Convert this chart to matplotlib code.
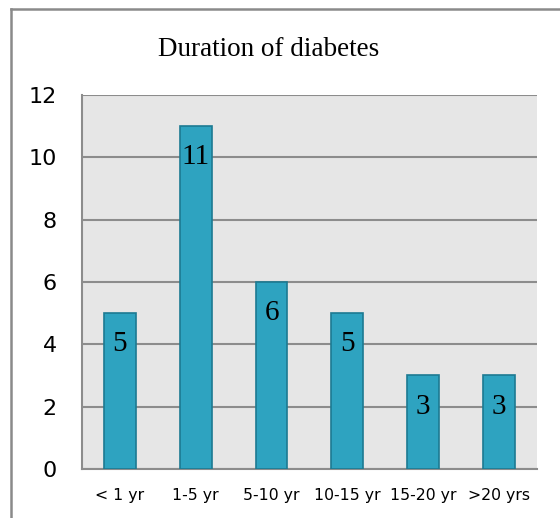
import matplotlib
matplotlib.use("Agg")
import matplotlib.pyplot as plt
from matplotlib.lines import Line2D

categories = ["< 1 yr", "1-5 yr", "5-10 yr", "10-15 yr", "15-20 yr", ">20 yrs"]
counts = [5, 11, 6, 5, 3, 3]
yticks = [0, 2, 4, 6, 8, 10, 12]

fig = plt.figure(figsize=(5.6, 5.18), dpi=100)
ax = fig.add_axes([0.1464, 0.0946, 0.8125, 0.722])
ax.set_facecolor("#e6e6e6")

x = range(len(categories))
bars = ax.bar(x, counts, width=0.42, color="#2ea3c0", edgecolor="#1d7a92", linewidth=1.2, zorder=3)

for b, v in zip(bars, counts):
    ax.annotate(str(v), (b.get_x() + b.get_width() / 2, v), xytext=(0, -22.5),
                textcoords="offset points", ha="center", va="center",
                fontsize=21, family="Liberation Serif", zorder=4)

ax.set_ylim(0, 12)
ax.set_xlim(-0.5, len(categories) - 0.5)
ax.set_yticks(yticks)
ax.set_xticks(list(x))
ax.set_xticklabels(categories)
ax.yaxis.grid(True, color="#8c8c8c", linewidth=1.5, zorder=1)
ax.set_axisbelow(True)
ax.tick_params(axis="y", length=0, pad=18, labelsize=16)
ax.tick_params(axis="x", length=0, pad=14, labelsize=11.3)
for s in ["top", "right"]:
    ax.spines[s].set_visible(False)
for s in ["left", "bottom"]:
    ax.spines[s].set_color("#8c8c8c")
    ax.spines[s].set_linewidth(1.5)

fig.text(0.48, 0.905, "Duration of diabetes", ha="center", va="center",
         fontsize=19.5, family="Liberation Serif")

# outer frame (only left and top visible in the crop)
fig.add_artist(Line2D([11 / 560, 11 / 560], [0, 1 - 9 / 518], transform=fig.transFigure,
                      color="#8a8a8a", linewidth=1.8))
fig.add_artist(Line2D([11 / 560, 1], [1 - 9 / 518, 1 - 9 / 518], transform=fig.transFigure,
                      color="#8a8a8a", linewidth=1.8))

fig.savefig("out.png", dpi=100)
